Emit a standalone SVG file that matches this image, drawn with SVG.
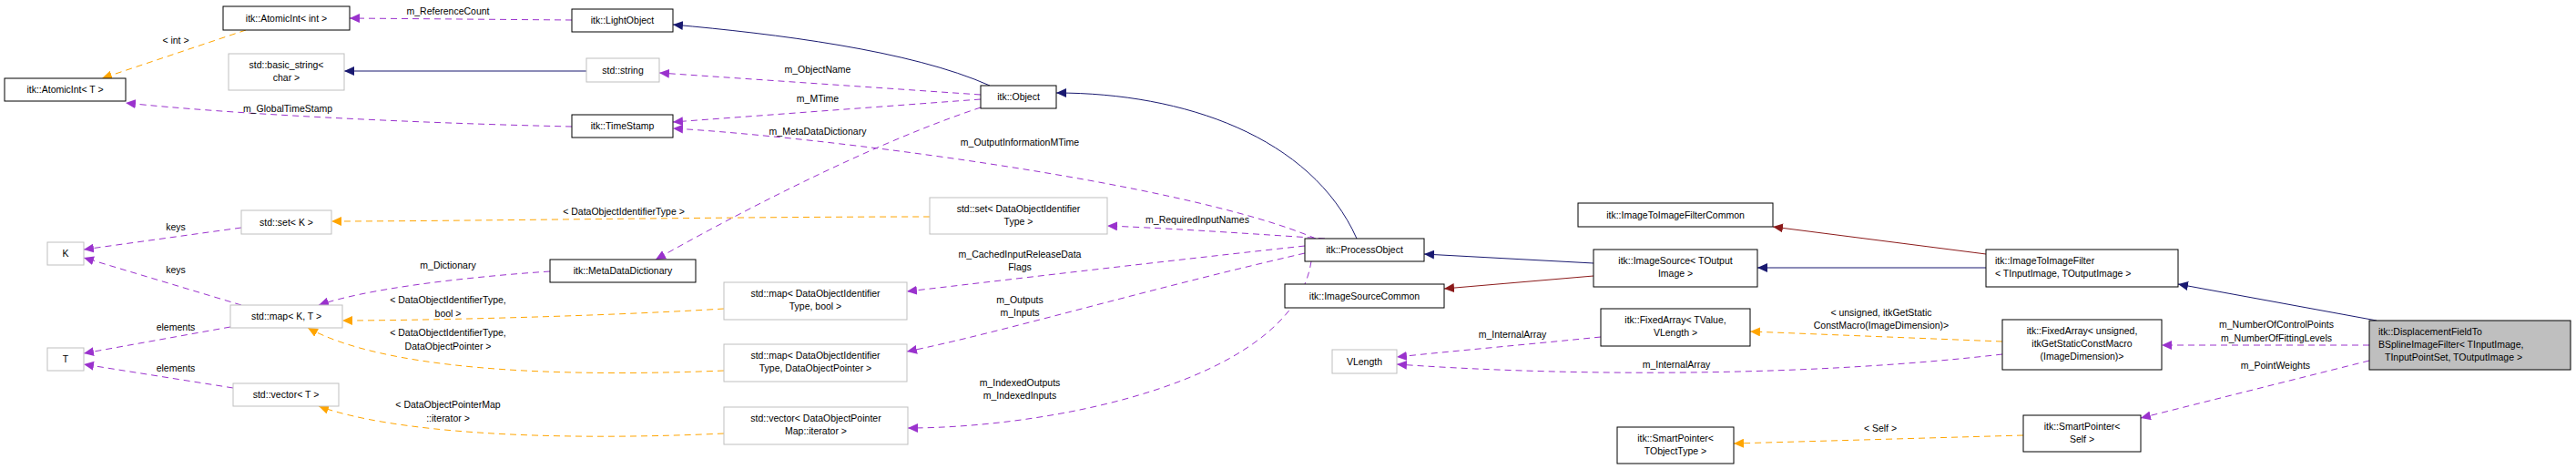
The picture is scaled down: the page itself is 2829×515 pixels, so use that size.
<svg xmlns="http://www.w3.org/2000/svg" width="2829" height="515" viewBox="0 0 2829 515">
<style>
text{font-family:"Liberation Sans",Arial,sans-serif;font-size:10.5px;fill:#000}
.n rect{fill:#fff;stroke:#000;stroke-width:1}
.g rect{fill:#fff;stroke:#bfbfbf;stroke-width:1}
.c{text-anchor:middle}
.e path{fill:none;stroke-width:1}
.nv{stroke:#191970}
.rd{stroke:#8b1a1a}
.pu{stroke:#9a32cd;stroke-dasharray:7,5}
.or{stroke:#ffa500;stroke-dasharray:7,5}
</style>
<defs>
<marker id="anv" markerUnits="userSpaceOnUse" markerWidth="12" markerHeight="10" refX="11" refY="5" orient="auto"><path d="M0,0L11,5L0,10z" fill="#191970"/></marker>
<marker id="ard" markerUnits="userSpaceOnUse" markerWidth="12" markerHeight="10" refX="11" refY="5" orient="auto"><path d="M0,0L11,5L0,10z" fill="#8b1a1a"/></marker>
<marker id="apu" markerUnits="userSpaceOnUse" markerWidth="12" markerHeight="10" refX="11" refY="5" orient="auto"><path d="M0,0L11,5L0,10z" fill="#9a32cd"/></marker>
<marker id="aor" markerUnits="userSpaceOnUse" markerWidth="12" markerHeight="10" refX="11" refY="5" orient="auto"><path d="M0,0L11,5L0,10z" fill="#ffa500"/></marker>
</defs>
<g id="edges" class="e">
<path class="pu" marker-end="url(#apu)" d="M628,22L384,20"/>
<path class="nv" marker-end="url(#anv)" d="M1087,94C1000,55 850,37 739,27"/>
<path class="nv" marker-end="url(#anv)" d="M644,78L378,78"/>
<path class="or" marker-end="url(#aor)" d="M270,33L112,86"/>
<path class="pu" marker-end="url(#apu)" d="M628,139C450,135 250,125 138,113"/>
<path class="pu" marker-end="url(#apu)" d="M1077,104L724,80"/>
<path class="pu" marker-end="url(#apu)" d="M1077,109L739,134"/>
<path class="pu" marker-end="url(#apu)" d="M1077,118C950,160 800,240 720,285"/>
<path class="pu" marker-end="url(#apu)" d="M1445,262C1300,200 900,150 739,141"/>
<path class="nv" marker-end="url(#anv)" d="M1490,262C1440,150 1300,102 1160,102"/>
<path class="pu" marker-end="url(#apu)" d="M1455,262C1350,255 1270,250 1216,248"/>
<path class="pu" marker-end="url(#apu)" d="M1433,270C1250,290 1100,308 996,320"/>
<path class="pu" marker-end="url(#apu)" d="M1433,278C1250,320 1100,365 996,386"/>
<path class="pu" marker-end="url(#apu)" d="M1440,287C1420,420 1150,470 997,470"/>
<path class="nv" marker-end="url(#anv)" d="M1750,289L1564,279"/>
<path class="rd" marker-end="url(#ard)" d="M1750,303L1586,317"/>
<path class="rd" marker-end="url(#ard)" d="M2181,279L1947,249"/>
<path class="nv" marker-end="url(#anv)" d="M2181,294L1930,294"/>
<path class="nv" marker-end="url(#anv)" d="M2610,352L2392,312"/>
<path class="pu" marker-end="url(#apu)" d="M2602,379L2374,379"/>
<path class="pu" marker-end="url(#apu)" d="M2602,396L2351,459"/>
<path class="or" marker-end="url(#aor)" d="M2199,375L1922,364"/>
<path class="pu" marker-end="url(#apu)" d="M1758,370C1680,378 1600,385 1534,392"/>
<path class="pu" marker-end="url(#apu)" d="M2199,389C2000,412 1750,415 1534,400"/>
<path class="or" marker-end="url(#aor)" d="M2222,478L1904,487"/>
<path class="or" marker-end="url(#aor)" d="M1021,238C800,238 500,243 364,243"/>
<path class="pu" marker-end="url(#apu)" d="M265,250L92,274"/>
<path class="pu" marker-end="url(#apu)" d="M265,335L92,283"/>
<path class="pu" marker-end="url(#apu)" d="M604,298C500,305 400,318 350,335"/>
<path class="or" marker-end="url(#aor)" d="M795,339C650,348 450,352 376,352"/>
<path class="or" marker-end="url(#aor)" d="M795,407C600,415 420,405 338,360"/>
<path class="pu" marker-end="url(#apu)" d="M253,359L92,388"/>
<path class="pu" marker-end="url(#apu)" d="M256,426L92,400"/>
<path class="or" marker-end="url(#aor)" d="M795,476C600,485 430,475 350,446"/>
</g>
<g id="edge-labels">
<text class="c" x="492" y="16">m_ReferenceCount</text>
<text class="c" x="193" y="48">&lt; int &gt;</text>
<text class="c" x="316" y="123">m_GlobalTimeStamp</text>
<text class="c" x="898" y="80">m_ObjectName</text>
<text class="c" x="898" y="112">m_MTime</text>
<text class="c" x="898" y="148">m_MetaDataDictionary</text>
<text class="c" x="1120" y="160">m_OutputInformationMTime</text>
<text class="c" x="1315" y="245">m_RequiredInputNames</text>
<text class="c" x="685" y="236">&lt; DataObjectIdentifierType &gt;</text>
<text class="c" x="193" y="253">keys</text>
<text class="c" x="193" y="300">keys</text>
<text class="c" x="492" y="295">m_Dictionary</text>
<text class="c" x="492" y="333">&lt; DataObjectIdentifierType,</text>
<text class="c" x="492" y="348">bool &gt;</text>
<text class="c" x="193" y="363">elements</text>
<text class="c" x="492" y="369">&lt; DataObjectIdentifierType,</text>
<text class="c" x="492" y="384">DataObjectPointer &gt;</text>
<text class="c" x="193" y="408">elements</text>
<text class="c" x="492" y="448">&lt; DataObjectPointerMap</text>
<text class="c" x="492" y="463">::iterator &gt;</text>
<text class="c" x="1120" y="283">m_CachedInputReleaseData</text>
<text class="c" x="1120" y="297">Flags</text>
<text class="c" x="1120" y="333">m_Outputs</text>
<text class="c" x="1120" y="347">m_Inputs</text>
<text class="c" x="1120" y="424">m_IndexedOutputs</text>
<text class="c" x="1120" y="438">m_IndexedInputs</text>
<text class="c" x="1661" y="371">m_InternalArray</text>
<text class="c" x="1841" y="404">m_InternalArray</text>
<text class="c" x="2066" y="347">&lt; unsigned, itkGetStatic</text>
<text class="c" x="2066" y="361">ConstMacro(ImageDimension)&gt;</text>
<text class="c" x="2065" y="474">&lt; Self &gt;</text>
<text class="c" x="2500" y="360">m_NumberOfControlPoints</text>
<text class="c" x="2500" y="375">m_NumberOfFittingLevels</text>
<text class="c" x="2499" y="405">m_PointWeights</text>
</g>
<g id="n-atomicint-int" class="n"><rect x="245" y="7" width="139" height="26"/><text class="c" x="314.5" y="24">itk::AtomicInt&lt; int &gt;</text></g>
<g id="n-atomicint-t" class="n"><rect x="5" y="86" width="133" height="25"/><text class="c" x="71.5" y="102">itk::AtomicInt&lt; T &gt;</text></g>
<g id="n-basic-string" class="g"><rect x="251" y="59" width="127" height="40"/><text class="c" x="314.5" y="75">std::basic_string&lt;</text><text class="c" x="314.5" y="89">char &gt;</text></g>
<g id="n-lightobject" class="n"><rect x="628" y="10" width="111" height="25"/><text class="c" x="683.5" y="26">itk::LightObject</text></g>
<g id="n-string" class="g"><rect x="644" y="64" width="80" height="26"/><text class="c" x="684" y="81">std::string</text></g>
<g id="n-timestamp" class="n"><rect x="628" y="126" width="111" height="25"/><text class="c" x="683.5" y="142">itk::TimeStamp</text></g>
<g id="n-set-k" class="g"><rect x="265" y="231" width="99" height="26"/><text class="c" x="314.5" y="248">std::set&lt; K &gt;</text></g>
<g id="n-k" class="g"><rect x="52" y="266" width="40" height="25"/><text class="c" x="72" y="282">K</text></g>
<g id="n-map-kt" class="g"><rect x="253" y="335" width="123" height="25"/><text class="c" x="314.5" y="351">std::map&lt; K, T &gt;</text></g>
<g id="n-t" class="g"><rect x="52" y="382" width="40" height="25"/><text class="c" x="72" y="398">T</text></g>
<g id="n-vector-t" class="g"><rect x="256" y="421" width="116" height="25"/><text class="c" x="314" y="437">std::vector&lt; T &gt;</text></g>
<g id="n-metadatadictionary" class="n"><rect x="604" y="285" width="160" height="25"/><text class="c" x="684" y="301">itk::MetaDataDictionary</text></g>
<g id="n-object" class="n"><rect x="1077" y="94" width="83" height="25"/><text class="c" x="1118.5" y="110">itk::Object</text></g>
<g id="n-set-doit" class="g"><rect x="1021" y="217" width="195" height="40"/><text class="c" x="1118.5" y="233">std::set&lt; DataObjectIdentifier</text><text class="c" x="1118.5" y="247">Type &gt;</text></g>
<g id="n-map-bool" class="g"><rect x="795" y="310" width="201" height="41"/><text class="c" x="895.5" y="326">std::map&lt; DataObjectIdentifier</text><text class="c" x="895.5" y="340">Type, bool &gt;</text></g>
<g id="n-map-ptr" class="g"><rect x="795" y="378" width="201" height="41"/><text class="c" x="895.5" y="394">std::map&lt; DataObjectIdentifier</text><text class="c" x="895.5" y="408">Type, DataObjectPointer &gt;</text></g>
<g id="n-vector-iter" class="g"><rect x="795" y="447" width="202" height="41"/><text class="c" x="896" y="463">std::vector&lt; DataObjectPointer</text><text class="c" x="896" y="477">Map::iterator &gt;</text></g>
<g id="n-processobject" class="n"><rect x="1433" y="262" width="131" height="25"/><text class="c" x="1498.5" y="278">itk::ProcessObject</text></g>
<g id="n-imagesourcecommon" class="n"><rect x="1411" y="312" width="175" height="26"/><text class="c" x="1498.5" y="329">itk::ImageSourceCommon</text></g>
<g id="n-imagesource" class="n"><rect x="1750" y="274" width="180" height="41"/><text class="c" x="1840" y="290">itk::ImageSource&lt; TOutput</text><text class="c" x="1840" y="304">Image &gt;</text></g>
<g id="n-i2ifcommon" class="n"><rect x="1733" y="223" width="214" height="26"/><text class="c" x="1840" y="240">itk::ImageToImageFilterCommon</text></g>
<g id="n-fixedarray-tvalue" class="n"><rect x="1758" y="339" width="164" height="41"/><text class="c" x="1840" y="355">itk::FixedArray&lt; TValue,</text><text class="c" x="1840" y="369">VLength &gt;</text></g>
<g id="n-vlength" class="g"><rect x="1463" y="384" width="71" height="26"/><text class="c" x="1498.5" y="401">VLength</text></g>
<g id="n-smartpointer-t" class="n"><rect x="1776" y="469" width="128" height="40"/><text class="c" x="1840" y="485">itk::SmartPointer&lt;</text><text class="c" x="1840" y="499">TObjectType &gt;</text></g>
<g id="n-i2if" class="n"><rect x="2181" y="274" width="211" height="41"/><text x="2191" y="290">itk::ImageToImageFilter</text><text x="2191" y="304">&lt; TInputImage, TOutputImage &gt;</text></g>
<g id="n-fixedarray-unsigned" class="n"><rect x="2199" y="351" width="175" height="55"/><text class="c" x="2286.5" y="367">itk::FixedArray&lt; unsigned,</text><text class="c" x="2286.5" y="381">itkGetStaticConstMacro</text><text class="c" x="2286.5" y="395">(ImageDimension)&gt;</text></g>
<g id="n-smartpointer-self" class="n"><rect x="2222" y="456" width="129" height="40"/><text class="c" x="2286.5" y="472">itk::SmartPointer&lt;</text><text class="c" x="2286.5" y="486">Self &gt;</text></g>
<g id="n-displacement" class="n"><rect x="2602" y="352" width="221" height="54" style="fill:#bfbfbf"/><text x="2612" y="368">itk::DisplacementFieldTo</text><text x="2612" y="382">BSplineImageFilter&lt; TInputImage,</text><text x="2619" y="396">TInputPointSet, TOutputImage &gt;</text></g>
</svg>
